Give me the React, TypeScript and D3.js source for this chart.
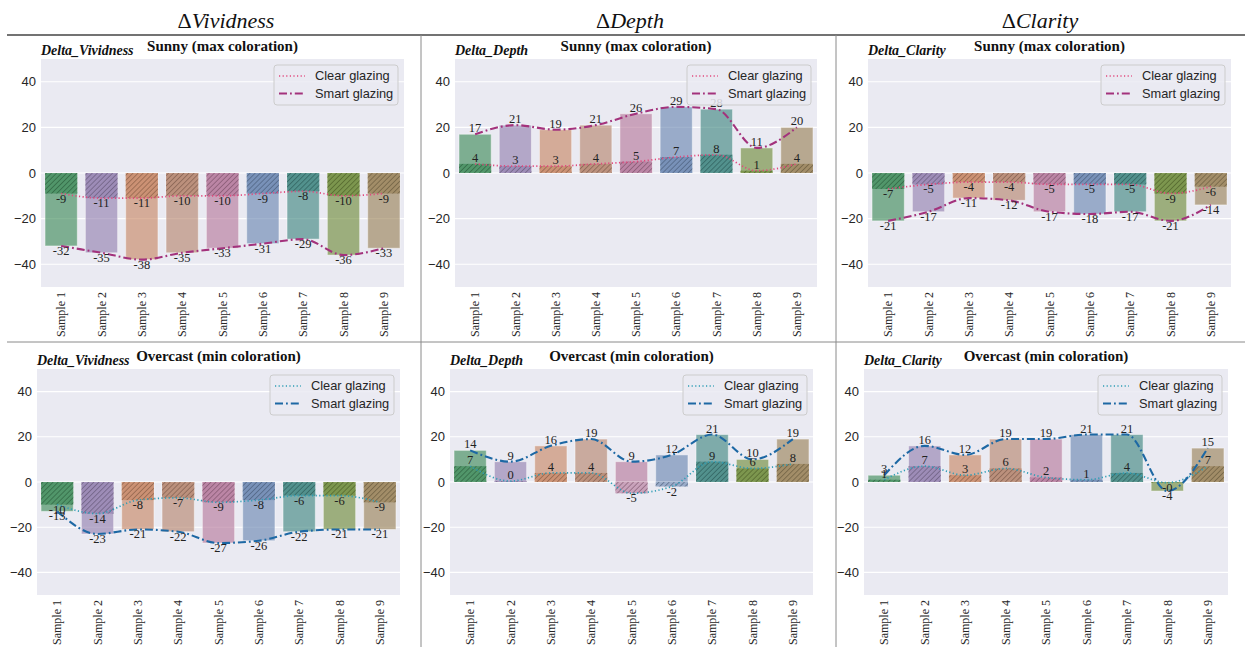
import React from "react";
import * as d3 from "d3";

const samples = ["Sample 1", "Sample 2", "Sample 3", "Sample 4", "Sample 5", "Sample 6", "Sample 7", "Sample 8", "Sample 9"];
const sampleColors = ["#348550", "#8e79ac", "#c5815c", "#b27e66", "#b37196", "#6281ae", "#368079", "#68852e", "#957c4f"];

const yTicks = [-40, -20, 0, 20, 40];
const yDomain = [-50, 50];

const columnHeaders = ["Vividness", "Depth", "Clarity"];
const metricLabels = ["Delta_Vividness", "Delta_Depth", "Delta_Clarity"];
const conditionTitles = ["Sunny (max coloration)", "Overcast (min coloration)"];
const legendLabels = ["Clear glazing", "Smart glazing"];

const sunnyVividnessClear = [-9, -11, -11, -10, -10, -9, -8, -10, -9];
const sunnyVividnessSmart = [-32, -35, -38, -35, -33, -31, -29, -36, -33];
const sunnyDepthClear = [4, 3, 3, 4, 5, 7, 8, 1, 4];
const sunnyDepthSmart = [17, 21, 19, 21, 26, 29, 28, 11, 20];
const sunnyClarityClear = [-7, -5, -4, -4, -5, -5, -5, -9, -6];
const sunnyClaritySmart = [-21, -17, -11, -12, -17, -18, -17, -21, -14];
const overcastVividnessClear = [-10, -14, -8, -7, -9, -8, -6, -6, -9];
const overcastVividnessSmart = [-13, -23, -21, -22, -27, -26, -22, -21, -21];
const overcastDepthClear = [7, 0.4, 4, 4, -5, -2, 9, 6, 8];
const overcastDepthSmart = [14, 9, 16, 19, 9, 12, 21, 10, 19];
const overcastClarityClear = [1, 7, 3, 6, 2, 1, 4, -0.3, 7];
const overcastClaritySmart = [3, 16, 12, 19, 19, 21, 21, -4, 15];

const sunnyLineColors = ["#e2497d", "#a3327c"];
const overcastLineColors = ["#2e9db5", "#1d68a4"];

const W = 1252;
const H = 647;

// layout (positions only)
const colLayout = [
  { top: [41, 404], bottom: [37, 400], header: 226 },
  { top: [455, 817], bottom: [450, 813], header: 630 },
  { top: [868, 1231], bottom: [864, 1228], header: 1040 },
];
const rowLayout = [
  { top: 59, bottom: 287, title: 51, delta: 55 },
  { top: 369, bottom: 595, title: 361, delta: 365 },
];

const dataGrid = [
  [
    [sunnyVividnessClear, sunnyVividnessSmart],
    [sunnyDepthClear, sunnyDepthSmart],
    [sunnyClarityClear, sunnyClaritySmart],
  ],
  [
    [overcastVividnessClear, overcastVividnessSmart],
    [overcastDepthClear, overcastDepthSmart],
    [overcastClarityClear, overcastClaritySmart],
  ],
];

const serif = "'Liberation Serif', 'Times New Roman', Times, serif";
const sans = "'Liberation Sans', Arial, Helvetica, sans-serif";
const clearDash = "1.2,2.4";
const smartDash = "8,3,1.8,3";

const fmt = (v: number) => {
  const r = Math.round(Math.abs(v));
  return (v < 0 ? "-" : "") + r;
};

function Panel({ row, col }: { row: number; col: number }) {
  const rl = rowLayout[row];
  const [left, right] = row === 0 ? colLayout[col].top : colLayout[col].bottom;
  const [clear, smart] = dataGrid[row][col];
  const lineColors = row === 0 ? sunnyLineColors : overcastLineColors;

  const x = d3.scaleBand<string>().domain(samples).range([left, right]).paddingInner(0.2).paddingOuter(0.1);
  const y = d3.scaleLinear().domain(yDomain).range([rl.bottom, rl.top]);
  const cx = (i: number) => (x(samples[i]) as number) + x.bandwidth() / 2;

  const line = d3
    .line<number>()
    .x((_, i) => cx(i))
    .y((d) => y(d))
    .curve(d3.curveMonotoneX);

  const labelY = (v: number) => (v < 0 ? y(v) + 9 : y(v) - 2);

  const legW = 124;
  const legX = right - 6 - legW;
  const legY = rl.top + 6;

  return (
    <g>
      <rect x={left} y={rl.top} width={right - left} height={rl.bottom - rl.top} fill="#eaeaf2" />
      {yTicks.map((t) => (
        <g key={t}>
          <line x1={left} x2={right} y1={y(t)} y2={y(t)} stroke="#ffffff" strokeWidth={1.1} />
          <text x={left - 5} y={y(t)} dy="0.35em" textAnchor="end" fontFamily={sans} fontSize={13} fill="#262626">
            {t < 0 ? "\u2212" + Math.abs(t) : t}
          </text>
        </g>
      ))}
      {/* smart glazing bars (light) */}
      {smart.map((v, i) => (
        <rect
          key={"s" + i}
          x={x(samples[i])}
          width={x.bandwidth()}
          y={Math.min(y(0), y(v))}
          height={Math.abs(y(v) - y(0))}
          fill={sampleColors[i]}
          fillOpacity={0.6}
          stroke="#ffffff"
          strokeOpacity={0.45}
          strokeWidth={1}
        />
      ))}
      {/* clear glazing bars (hatched) */}
      {clear.map((v, i) => (
        <g key={"c" + i}>
          <rect
            x={x(samples[i])}
            width={x.bandwidth()}
            y={Math.min(y(0), y(v))}
            height={Math.abs(y(v) - y(0))}
            fill={sampleColors[i]}
            fillOpacity={0.6}
          />
          <rect
            x={x(samples[i])}
            width={x.bandwidth()}
            y={Math.min(y(0), y(v))}
            height={Math.abs(y(v) - y(0))}
            fill={`url(#hatch${i})`}
          />
        </g>
      ))}
      <path d={line(clear) || ""} fill="none" stroke={lineColors[0]} strokeWidth={1.7} strokeDasharray={clearDash} />
      <path d={line(smart) || ""} fill="none" stroke={lineColors[1]} strokeWidth={2.1} strokeDasharray={smartDash} />
      {clear.map((v, i) => (
        <text key={"lc" + i} x={cx(i)} y={labelY(v)} textAnchor="middle" fontFamily={serif} fontSize={12.5} fill="#222">
          {fmt(v)}
        </text>
      ))}
      {smart.map((v, i) => (
        <text key={"ls" + i} x={cx(i)} y={labelY(v)} textAnchor="middle" fontFamily={serif} fontSize={12.5} fill="#222">
          {fmt(v)}
        </text>
      ))}
      {samples.map((s, i) => (
        <text
          key={s}
          transform={`translate(${cx(i)},${rl.bottom + 5}) rotate(-90)`}
          textAnchor="end"
          dy="0.35em"
          fontFamily={serif}
          fontSize={12}
          fill="#262626"
        >
          {s}
        </text>
      ))}
      <text x={(left + right) / 2} y={rl.title} textAnchor="middle" fontFamily={serif} fontWeight="bold" fontSize={15} fill="#111">
        {conditionTitles[row]}
      </text>
      <text x={left} y={rl.delta} fontFamily={serif} fontWeight="bold" fontStyle="italic" fontSize={14} fill="#111">
        {metricLabels[col]}
      </text>
      {/* legend */}
      <g>
        <rect x={legX} y={legY} width={legW} height={40} rx={3} fill="#eaeaf2" fillOpacity={0.85} stroke="#cccccc" strokeWidth={1} />
        {legendLabels.map((lab, k) => {
          const ly = legY + 11 + k * 17.5;
          return (
            <g key={lab}>
              <line
                x1={legX + 5}
                x2={legX + 31}
                y1={ly}
                y2={ly}
                stroke={lineColors[k]}
                strokeWidth={k === 0 ? 1.7 : 2.1}
                strokeDasharray={k === 0 ? clearDash : smartDash}
              />
              <text x={legX + 41} y={ly} dy="0.35em" fontFamily={sans} fontSize={12.8} fill="#262626">
                {lab}
              </text>
            </g>
          );
        })}
      </g>
    </g>
  );
}

export default function App() {
  return (
    <svg
      width={W}
      height={H}
      style={{ position: "absolute", left: 0, top: 0, background: "#ffffff" }}
      xmlns="http://www.w3.org/2000/svg"
    >
      <defs>
        {sampleColors.map((c, i) => (
          <pattern key={i} id={`hatch${i}`} width={3.6} height={3.6} patternUnits="userSpaceOnUse" patternTransform="rotate(45)">
            <line x1={0} y1={0} x2={0} y2={3.6} stroke={(d3.color(c) as d3.RGBColor).darker(1.6).formatHex()} strokeWidth={1.1} strokeOpacity={0.85} />
          </pattern>
        ))}
      </defs>
      <rect x={0} y={0} width={W} height={H} fill="#ffffff" />
      {columnHeaders.map((h, i) => (
        <text key={h} x={colLayout[i].header} y={28} textAnchor="middle" fontFamily={serif} fontSize={22} fill="#111">
          <tspan>{"\u0394"}</tspan>
          <tspan fontStyle="italic">{h}</tspan>
        </text>
      ))}
      <line x1={7} x2={1245} y1={35} y2={35} stroke="#444" strokeWidth={1.5} />
      <line x1={7} x2={1245} y1={342} y2={342} stroke="#8a8a8a" strokeWidth={1} />
      <line x1={421} x2={421} y1={35} y2={647} stroke="#8a8a8a" strokeWidth={1} />
      <line x1={836} x2={836} y1={35} y2={647} stroke="#8a8a8a" strokeWidth={1} />
      {[0, 1].map((r) => [0, 1, 2].map((c) => <Panel key={r + "-" + c} row={r} col={c} />))}
    </svg>
  );
}
